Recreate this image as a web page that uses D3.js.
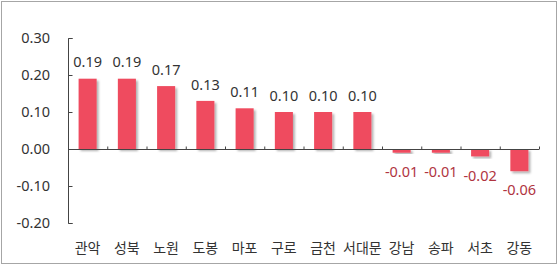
<!DOCTYPE html>
<html><head><meta charset="utf-8">
<script src="https://cdn.jsdelivr.net/npm/d3@7"></script>
<style>
body{margin:0;background:#fff;}
text{font-family:"Noto Sans CJK KR","Noto Sans",sans-serif;}
text.num{font-family:"Noto Sans","DejaVu Sans",sans-serif;}
</style></head>
<body>
<svg id="c" width="558" height="266"></svg>
<script>
const categories = ["관악","성북","노원","도봉","마포","구로","금천","서대문","강남","송파","서초","강동"];
const values = [0.19,0.19,0.17,0.13,0.11,0.10,0.10,0.10,-0.01,-0.01,-0.02,-0.06];
const yTicks = [0.30,0.20,0.10,0.00,-0.10,-0.20];

const fmt = d => d3.format(".2f")(d).replace("\u2212","-");

const svg = d3.select("#c");
svg.append("rect").attr("x",1.5).attr("y",1.5).attr("width",555).attr("height",262)
  .attr("fill","#fff").attr("stroke","#a6a6a6").attr("stroke-width",1);

const defs = svg.append("defs");
const f = defs.append("filter").attr("id","sh").attr("x","-20%").attr("y","-20%").attr("width","150%").attr("height","150%");
f.append("feDropShadow").attr("dx",2).attr("dy",2).attr("stdDeviation",1.2).attr("flood-color","#000").attr("flood-opacity",0.3);

const x = d3.scaleBand().domain(categories).range([68,539]).paddingInner(0.54).paddingOuter(0.27);
const y = d3.scaleLinear().domain([-0.2,0.3]).range([223,38]);

// bars
svg.append("g").selectAll("rect").data(values).join("rect")
  .attr("x",(d,i)=>x(categories[i]))
  .attr("width",x.bandwidth())
  .attr("y",d=>y(Math.max(0,d)))
  .attr("height",d=>Math.abs(y(d)-y(0)))
  .attr("fill","#ef4b5e")
  .attr("filter","url(#sh)");

// y axis
const ya = svg.append("g").attr("transform","translate(68.5,0)")
  .call(d3.axisRight(y).tickValues(yTicks).tickSize(4).tickFormat(""));
ya.select(".domain").attr("d","M4,"+(y(0.3)+0.5)+"H0V"+(y(-0.2)+0.5)+"H4").attr("stroke","#444");
ya.selectAll(".tick line").attr("stroke","#444");
svg.append("g").selectAll("text").data(yTicks).join("text").attr("class","num")
  .attr("x",50).attr("y",d=>y(d)).attr("dy","0.36em").attr("text-anchor","end")
  .attr("font-size",14.5).attr("fill","#333").text(fmt);

// x axis line at 0
const xb = d3.scaleLinear().domain([0,12]).range([68,539]);
const xa = svg.append("g").attr("transform","translate(0,"+(Math.round(y(0))+0.5)+")")
  .call(d3.axisTop(xb).tickValues(d3.range(1,13)).tickSize(3).tickFormat(""));
xa.select(".domain").attr("d","M68,0H539").attr("stroke","#444");
xa.selectAll(".tick line").attr("stroke","#444");

// value labels
svg.append("g").selectAll("text").data(values).join("text").attr("class","num")
  .attr("x",(d,i)=>x(categories[i])+x.bandwidth()/2)
  .attr("y",d=> d>=0 ? y(d)-16.5 : y(d)+19)
  .attr("dy","0.36em").attr("text-anchor","middle").attr("font-size",14.5)
  .attr("fill",d=>d>=0?"#333":"#b0343f")
  .text(fmt);

// category labels
svg.append("g").selectAll("text").data(categories).join("text")
  .attr("x",d=>x(d)+x.bandwidth()/2).attr("y",248).attr("dy","0.36em")
  .attr("text-anchor","middle").attr("font-size",14).attr("fill","#333").text(d=>d);
</script>
</body></html>
